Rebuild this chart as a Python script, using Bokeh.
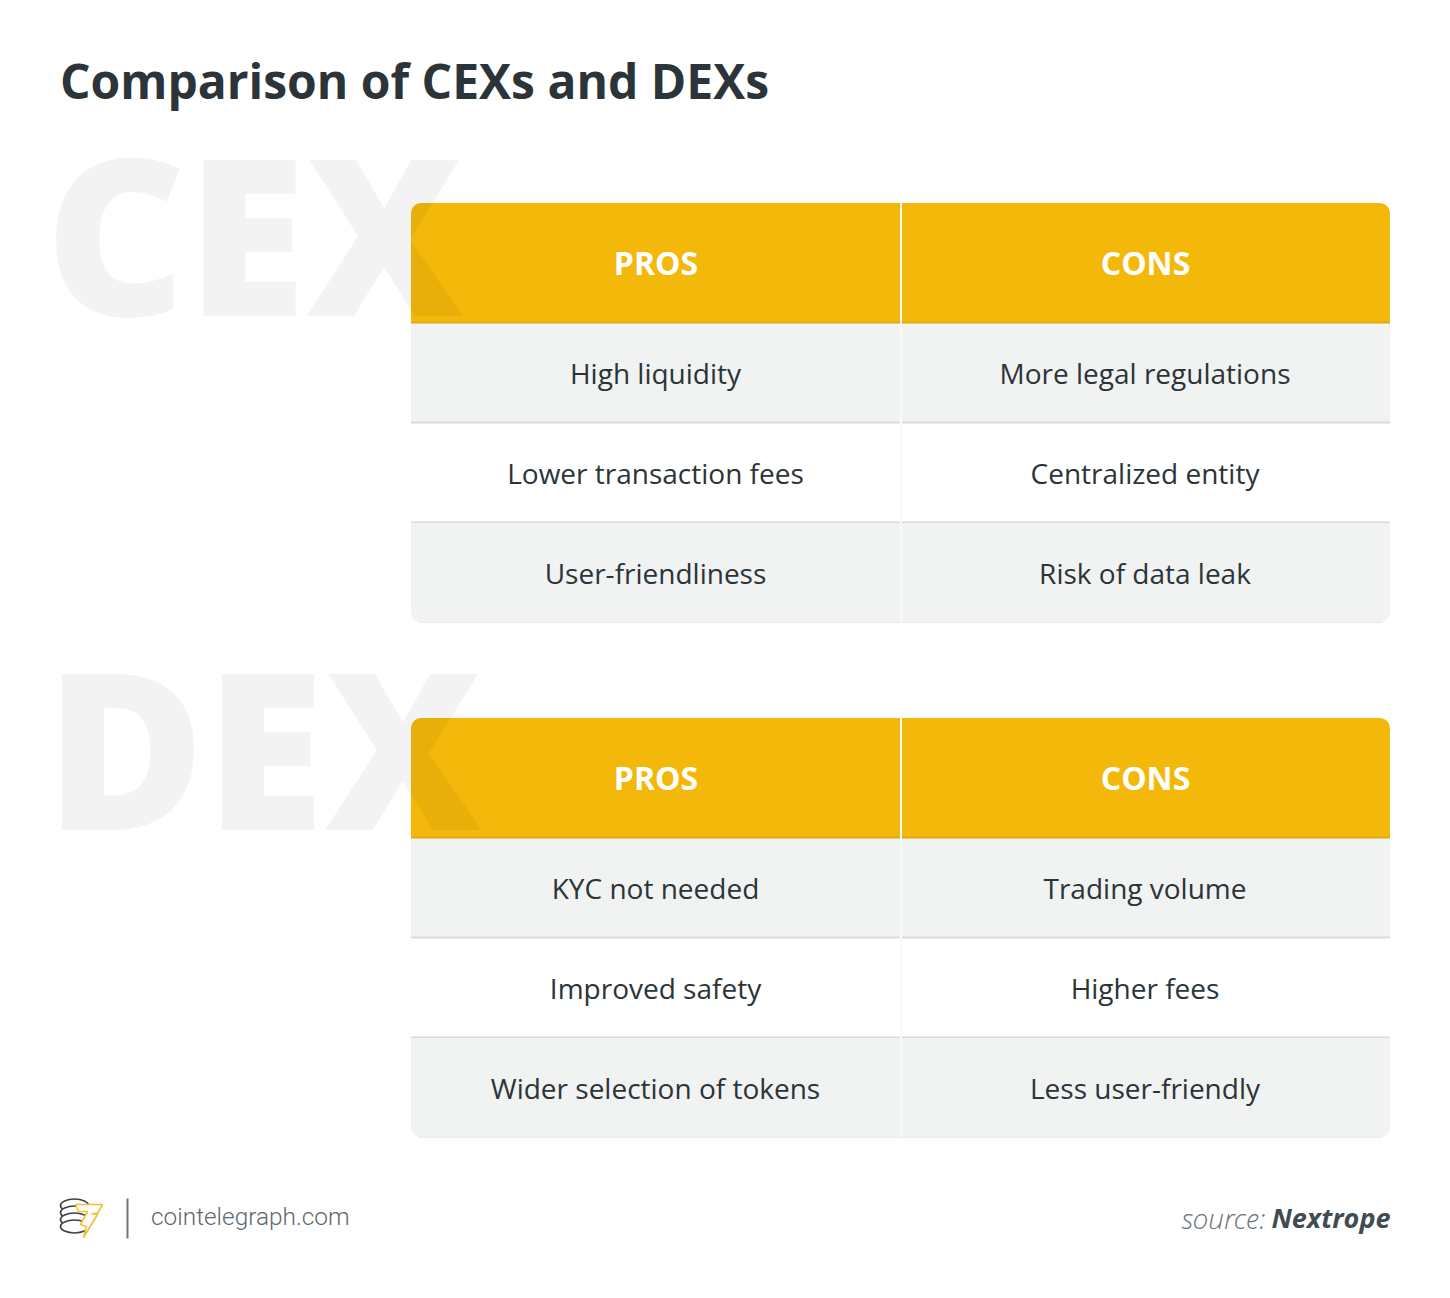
from bokeh.plotting import figure
from bokeh.models import Range1d
from bokeh.core.properties import value
from bokeh.embed import file_html
from bokeh.resources import INLINE

title = "Comparison of CEXs and DEXs"
headers = ["PROS", "CONS"]
cex_pros = ["High liquidity", "Lower transaction fees", "User-friendliness"]
cex_cons = ["More legal regulations", "Centralized entity", "Risk of data leak"]
dex_pros = ["KYC not needed", "Improved safety", "Wider selection of tokens"]
dex_cons = ["Trading volume", "Higher fees", "Less user-friendly"]
site = "cointelegraph.com"
source_label = "source:"
source_name = "Nextrope"

DARK = "#2b3438"
YEL = "#f4b80b"
GRAY = "#f1f2f2"
L, M, R = 410.5, 900.5, 1389.5

p = figure(width=1434, height=1282, x_range=Range1d(0, 1434), y_range=Range1d(1282, 0),
           output_backend="svg", toolbar_location=None, min_border=0, outline_line_color=None)
p.axis.visible = False
p.grid.visible = False
p.background_fill_color = "white"
p.border_fill_color = "white"


def txt(x, y, s, size, color=DARK, style="normal", font="Open Sans", align="center", alpha=1.0):
    p.text([x], [y], text=[s], text_font=value(font), text_font_size=f"{size}px", text_color=color,
           text_font_style=style, text_align=align, text_baseline="middle", text_alpha=alpha)


def table(top, pros, cons):
    p.quad(left=[L], right=[R], top=[top], bottom=[top + 119], fill_color=YEL, line_color=None,
           border_radius=(10, 10, 0, 0))
    for i, (a, b) in enumerate(zip(pros, cons)):
        t = top + 120 + 100 * i
        if i % 2 == 0:
            radius = (0, 0, 10, 10) if i == 2 else 0
            p.quad(left=[L], right=[R], top=[t], bottom=[t + 99.5], fill_color=GRAY, line_color=None,
                   border_radius=radius)
        if i < 2:
            p.quad(left=[L], right=[R], top=[t + 98.5], bottom=[t + 100.5], fill_color="#d8dbdb", line_color=None)
        else:
            p.quad(left=[L + 8], right=[R - 8], top=[t + 99], bottom=[t + 100], fill_color="#e9eaea", line_color=None)
        txt((L + M) / 2 - 0.5, t + 49.5, a, 28)
        txt((M + R) / 2 - 0.5, t + 49.5, b, 28)
    p.quad(left=[L], right=[R], top=[top + 118.5], bottom=[top + 120.5], fill_color="#e3a90f", line_color=None)
    p.quad(left=[M - 1], right=[M + 1], top=[top], bottom=[top + 120.5], fill_color="white", line_color=None)
    p.quad(left=[M - 1], right=[M + 1], top=[top + 120.5], bottom=[top + 419], fill_color="#f8f9f9", line_color=None)
    txt((L + M) / 2, top + 59.5, headers[0], 32, color="white", style="bold")
    txt((M + R) / 2, top + 59.5, headers[1], 32, color="white", style="bold")


table(202.5, cex_pros, cex_cons)
table(717.5, dex_pros, dex_cons)

# Ghost captions, drawn over the tables as a faint dark veil
txt(44.5, 231, "CEX", 218, color="black", font="Open Sans ExtraBold", align="left", alpha=0.048)
txt(44.5, 745, "DEX", 218, color="black", font="Open Sans ExtraBold", align="left", alpha=0.048)

txt(59.5, 80, title, 48, style="bold", align="left")

# Footer logo
for cy in (1205, 1212, 1219, 1226):
    p.ellipse(x=[74], y=[cy], width=28, height=13, fill_color="white", line_color="#3a4347", line_width=1.7)
xs = [75, 102, 97, 91, 97, 83, 86, 80, 87, 78]
ys = [1204, 1204, 1213, 1213, 1214, 1237, 1226, 1224, 1211, 1211]
p.patch(xs, ys, fill_color="white", line_color="#f3c02e", line_width=1.6)
p.line([127, 127], [1198, 1238], line_color="#6f7679", line_width=2)
txt(150.5, 1216, site, 24.4, color="#5f686c", font="Roboto Light", align="left")

# Source
txt(1265, 1217, source_label, 28.2, color="#6e767a", style="italic", font="Open Sans Light", align="right")
txt(1390, 1217, source_name, 27, color="#3f4c54", style="bold italic", align="right")

open("out.html", "w").write(file_html(p, INLINE))
